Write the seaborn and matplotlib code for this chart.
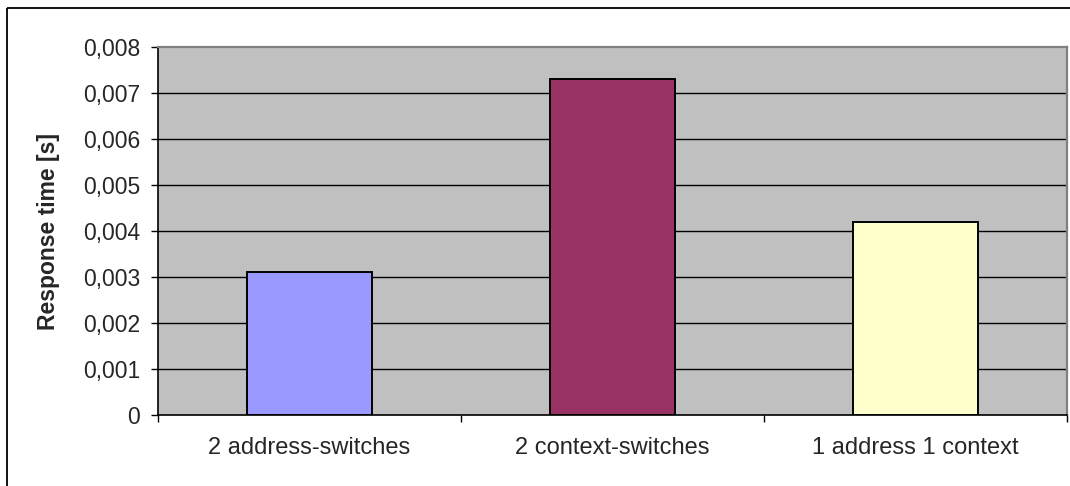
import matplotlib
matplotlib.use("Agg")
import matplotlib.pyplot as plt
from matplotlib.patches import Rectangle
from matplotlib.ticker import FuncFormatter, FixedLocator
import seaborn as sns
import pandas as pd

# Response times per scenario
categories = ["2 address-switches", "2 context-switches", "1 address 1 context"]
response_time = [0.0031, 0.0073, 0.0042]
bar_colors = ["#9999FF", "#993366", "#FFFFCC"]
y_ticks = [0.000, 0.001, 0.002, 0.003, 0.004, 0.005, 0.006, 0.007, 0.008]

sns.set_theme(style="white")
plt.rcParams["font.family"] = ["Liberation Sans", "DejaVu Sans"]

W, H = 1070, 486
fig = plt.figure(figsize=(W / 100, H / 100), dpi=100)
fig.patch.set_facecolor("white")

# outer chart border (runs off the right and bottom edge)
fig.patches.append(Rectangle((7 / W, 1 - 8 / H), 2, -2, transform=fig.transFigure,
                             fill=False, edgecolor="black", linewidth=1.3))

left, right, top, bottom = 158, 1067, 47, 415
ax = fig.add_axes([left / W, 1 - bottom / H, (right - left) / W, (bottom - top) / H])
ax.set_facecolor("#C0C0C0")

df = pd.DataFrame({"category": categories, "time": response_time})
sns.barplot(data=df, x="category", y="time", hue="category", palette=bar_colors,
            saturation=1, width=0.41, edgecolor="black", linewidth=1.4,
            legend=False, ax=ax, zorder=3)

ax.set_xlim(-0.5, len(categories) - 0.5)
ax.set_ylim(y_ticks[0], y_ticks[-1])

# horizontal gridlines
ax.yaxis.set_major_locator(FixedLocator(y_ticks))
for v in y_ticks[1:-1]:
    ax.axhline(v, color="black", linewidth=1.0, zorder=1)

ax.yaxis.set_major_formatter(FuncFormatter(
    lambda v, p: "0" if abs(v) < 1e-12 else f"{v:.3f}".replace(".", ",")))
ax.tick_params(axis="y", which="major", direction="out", length=5, width=1,
               color="black", pad=8, labelsize=16.5, left=True)

# category separators as ticks; labels sit on minor ticks at bar centres
n = len(categories)
ax.set_xticks([i - 0.5 for i in range(n + 1)])
ax.set_xticklabels([""] * (n + 1))
ax.set_xticks(range(n), minor=True)
ax.set_xticklabels(categories, minor=True)
ax.tick_params(axis="x", which="major", direction="out", length=5, width=1,
               color="black", bottom=True)
ax.tick_params(axis="x", which="minor", length=0, pad=16, labelsize=17)

ax.set_xlabel("")
ax.set_ylabel("Response time [s]", fontsize=16.5, fontweight="bold", labelpad=16)

for side in ["left", "bottom"]:
    ax.spines[side].set_color("black")
    ax.spines[side].set_linewidth(1.2)
for side in ["top", "right"]:
    ax.spines[side].set_color("#808080")
    ax.spines[side].set_linewidth(1.6)
for s in ax.spines.values():
    s.set_visible(True)

fig.savefig("out.png", dpi=100, facecolor="white")
